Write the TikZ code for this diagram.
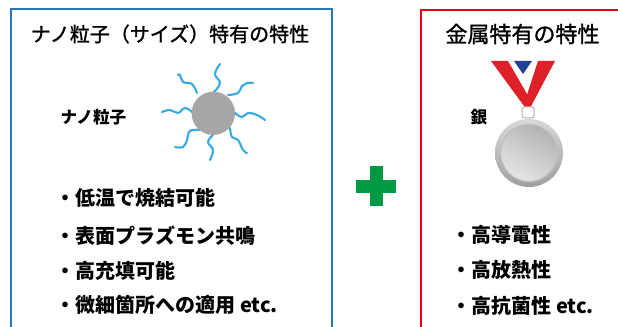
\documentclass[tikz,border=0pt]{standalone}
\usepackage{fontspec}
\setmainfont{Noto Sans CJK JP}
\newfontfamily\medium[FakeBold=1.2]{Noto Sans CJK JP}

\definecolor{boxblue}{RGB}{46,117,182}
\definecolor{boxred}{RGB}{230,0,18}
\definecolor{plusgreen}{RGB}{0,153,68}
\definecolor{ligblue}{RGB}{58,170,228}
\definecolor{coregray}{RGB}{166,166,166}
\definecolor{ribbonred}{RGB}{222,32,40}
\definecolor{ribbonblue}{RGB}{34,64,150}

\tikzset{every picture/.style={line width=0.75pt}}
\tikzset{
  ttl/.style={inner sep=0.75pt, font=\medium\fontsize{15}{18}\selectfont},
  item/.style={anchor=west, inner sep=0pt, font=\fontsize{15}{18}\selectfont\bfseries},
  lbl/.style={anchor=west, inner sep=0pt, font=\fontsize{12.5}{15}\selectfont\bfseries},
  ligand/.style={color=ligblue, line width=1.6pt, line cap=round},
}

\begin{document}
\begin{tikzpicture}[x=0.75pt,y=0.75pt,yscale=-1,xscale=1]
\useasboundingbox (0,0) rectangle (618,327);

%Shape: Rectangle [nano side]
\draw [color=boxblue, line width=1.5pt] (10.5,9.5) rectangle (331.5,345) ;
%Shape: Rectangle [metal side]
\draw [color=boxred, line width=1.5pt] (420.5,10) rectangle (640,345) ;

%Shape: Plus
\fill [plusgreen] (369.5,166.5) rectangle (382.5,206.5) ;
\fill [plusgreen] (356,180.5) rectangle (396,193.5) ;

%Ligands
\draw [ligand] plot [smooth, tension=0.7] coordinates {(214,92) (220,83) (215,74) (220,64)} ;
\draw [ligand] plot [smooth, tension=0.7] coordinates {(197,93) (192,84) (183,82) (180,75) (178,75)} ;
\draw [ligand] plot [smooth, tension=0.7] coordinates {(228,95) (238,93) (242,86) (247,83) (253,83)} ;
\draw [ligand] plot [smooth, tension=0.7] coordinates {(192,112) (185,108) (178,113) (170,110) (162,112)} ;
\draw [ligand] plot [smooth, tension=0.7] coordinates {(235,113) (242,117) (248,113) (257,115) (265,120)} ;
\draw [ligand] plot [smooth, tension=0.7] coordinates {(200,130) (190,131) (187,140) (183,147) (175,147)} ;
\draw [ligand] plot [smooth, tension=0.7] coordinates {(213,135) (208,142) (213,150) (210,160)} ;
\draw [ligand] plot [smooth, tension=0.7] coordinates {(230,128) (232,137) (238,140) (243,150) (247,153)} ;
%Shape: Circle [particle core]
\fill [coregray] (213.3,113.3) circle (21.7) ;

%Ribbon
\fill [ribbonred] (491,61) -- (508,61) -- (531,101) -- (527,110) -- cycle ;
\fill [ribbonred] (538,61) -- (555,61) -- (529,110) -- (525,101) -- cycle ;
\fill [ribbonblue] (514,61) -- (532,61) -- (523,74) -- cycle ;
%Clasp
\draw [color=gray!60, fill=white, rounded corners=2pt] (522,107) rectangle (534,118) ;
%Medal
\shade [top color=gray!30, bottom color=gray!75] (529,153) circle (34) ;
\shade [shading=axis, left color=gray!60, right color=gray!20, shading angle=-30] (529,153) circle (28.5) ;
\draw [color=gray!50, line width=1pt] (529,153) circle (28.5) ;

% Text Node
\node (ttlNano) [ttl] at (170,34) {ナノ粒子（サイズ）特有の特性} ;
% Text Node
\node (ttlMetal) [ttl, font=\medium\fontsize{16.5}{20}\selectfont] at (522.5,34) {金属特有の特性} ;
% Text Node
\node (lblNano) [lbl] at (60,117) {ナノ粒子} ;
% Text Node
\node (lblAg) [lbl] at (470,117) {銀} ;

% Text Node
\node (nano1) [item] at (55,198) {・低温で焼結可能} ;
\node (nano2) [item] at (55,236) {・表面プラズモン共鳴} ;
\node (nano3) [item] at (55,271) {・高充填可能} ;
\node (nano4) [item] at (55,305) {・微細箇所への適用 etc.} ;
% Text Node
\node (metal1) [item] at (451,235) {・高導電性} ;
\node (metal2) [item] at (451,270) {・高放熱性} ;
\node (metal3) [item] at (451,306) {・高抗菌性 etc.} ;

\end{tikzpicture}
\end{document}
